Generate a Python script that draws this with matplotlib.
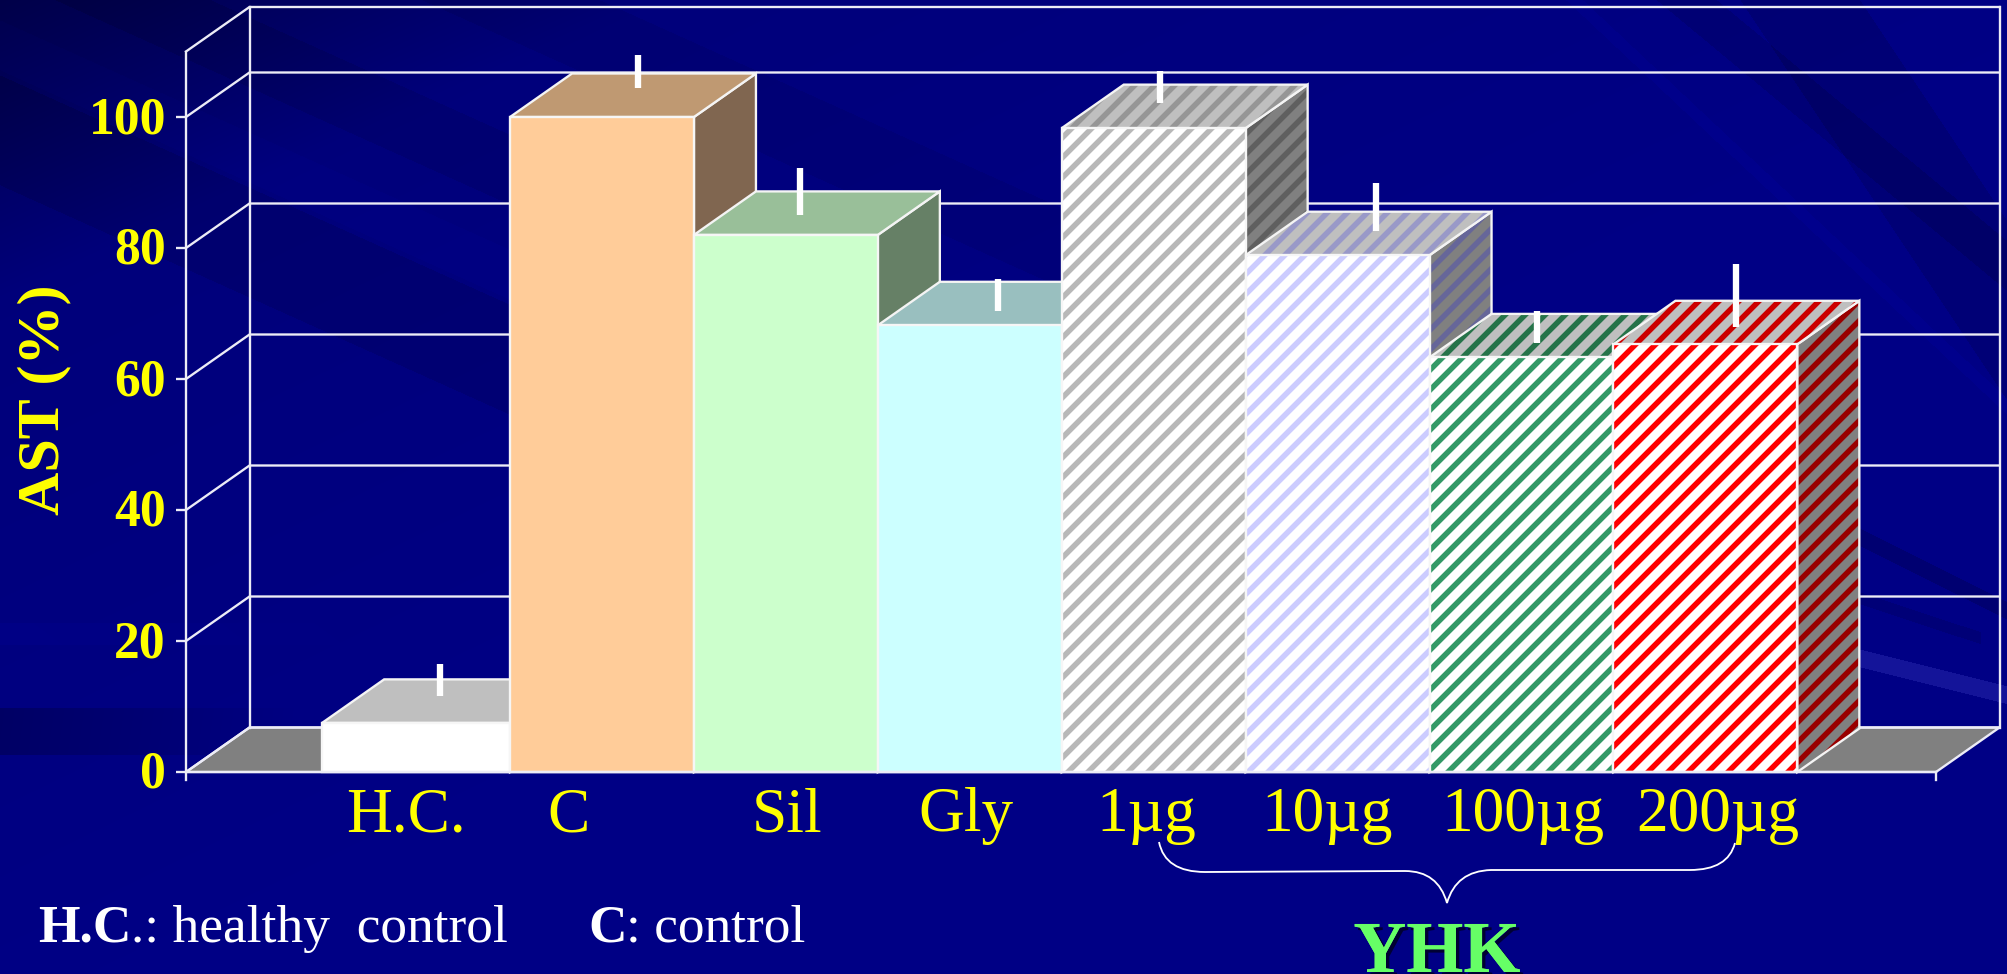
import numpy as np
import matplotlib
matplotlib.use("Agg")
import matplotlib.pyplot as plt
from matplotlib.patches import Polygon, PathPatch
from matplotlib.path import Path
from matplotlib.transforms import ScaledTranslation
import matplotlib.patheffects as pe

categories = ["H.C.", "C", "Sil", "Gly", "1µg", "10µg", "100µg", "200µg"]
values = [7.5, 100, 82, 68.2, 98.3, 78.9, 63.3, 65.3]
err_low = [11.6, 104.5, 85.1, 70.4, 102.1, 82.6, 65.5, 67.9]
err_high = [16.5, 109.5, 92.2, 75.3, 107, 89.9, 70.4, 77.6]
y_ticks = [0, 20, 40, 60, 80, 100]

W, H, DPI = 2007, 974, 120
plt.rcParams["font.family"] = ["Liberation Serif", "DejaVu Serif"]
plt.rcParams["hatch.linewidth"] = 3.3

# layout: pixel <-> data mapping
PX_X0, PX_XU, PX_Y0, PX_YU = 418.1, 183.9, 772.0, 6.55
def xd(px): return (px - PX_X0) / PX_XU
def yd(py): return (PX_Y0 - py) / PX_YU

fig = plt.figure(figsize=(W / DPI, H / DPI), dpi=DPI)
ax = fig.add_axes([0, 0, 1, 1])
xlim = (xd(0), xd(W)); ylim = (yd(H), yd(0))

# background
yy, xx = np.mgrid[0:H:1, 0:W:1].astype(float)
blue = 124 + 14 * np.clip(xx / W + yy / H - 0.4, -0.4, 0.7)
blue -= 45 * np.clip(1 - (xx / 650 + yy / 300), 0, 1)
def band(c, w, amp, slope=0.45, xmin=0, xmax=W):
    d = (yy - slope * xx - c)
    return amp * ((np.abs(d) < w) & (xx >= xmin) & (xx <= xmax))
blue += band(130, 55, -12, xmax=1100) + band(-60, 35, -10, xmax=1100) + band(-230, 40, -8, xmax=1100)
blue += band(45, 25, 4, xmax=1100)
# top right fan of streaks
blue += band(-1400, 25, -14, 0.83) + band(-2700, 90, -15, 1.5)
blue += band(-1480, 8, 7, 0.94)
# lower right streaks
blue += band(537 - 0.5 * 1860, 9, -20, 0.5, 1800) + band(598 - 0.33 * 1860, 6, -14, 0.33, 1800, 1980)
# dark block at lower left
blue += -28 * ((yy > 707) & (yy < 755)) * np.clip(1 - xx / 300, 0, 1)
blue += 6 * ((yy > 622) & (yy < 645)) * np.clip(1 - xx / 340, 0, 1)
blue = np.clip(blue, 60, 150)
zero = np.zeros_like(blue)
img = np.dstack([zero, zero, blue / 255.0])
streak = (np.abs(yy - 0.25 * (xx - 1860) - 658) < 9) & (xx > 1840)
img[streak] = [0.08, 0.08, 0.60]
ax.imshow(img, extent=(*xlim, *ylim), origin="upper", aspect="auto",
          interpolation="nearest", zorder=0)
ax.set_xlim(*xlim); ax.set_ylim(*ylim)

LINE = "#ECECF6"
LW = 1.4
ax_l, ax_r = xd(186), xd(1936)
wall_dx, wall_dy = 63.5 / PX_XU, 44.5 / PX_YU
top_val = 110
bar_dx, bar_dy = 62 / PX_XU, 43.5 / PX_YU

# floor
ax.add_patch(Polygon([(ax_l, 0), (ax_r, 0), (ax_r + wall_dx, wall_dy), (ax_l + wall_dx, wall_dy)],
                     closed=True, fc="#808080", ec=LINE, lw=LW, zorder=1))
# grid on walls
for v in y_ticks + [top_val]:
    ax.plot([ax_l, ax_l + wall_dx, ax_r + wall_dx], [v, v + wall_dy, v + wall_dy],
            color=LINE, lw=LW, zorder=1, solid_joinstyle="miter")
ax.plot([ax_l + wall_dx] * 2, [wall_dy, top_val + wall_dy], color=LINE, lw=LW, zorder=1)
ax.plot([ax_r + wall_dx] * 2, [wall_dy, top_val + wall_dy], color=LINE, lw=LW, zorder=1)
ax.plot([ax_r, ax_r], [0, yd(780)], color=LINE, lw=LW, zorder=1)

# bars
front = ["#FFFFFF", "#FFCC99", "#CCFFCC", "#CCFFFF", "#FFFFFF", "#FFFFFF", "#FFFFFF", "#FFFFFF"]
top_c = ["#BFBFBF", "#BF9972", "#99BF99", "#99BFBF", "#BFBFBF", "#BFBFBF", "#BFBFBF", "#BFBFBF"]
side_c = ["#808080", "#806650", "#668066", "#668080", "#808080", "#808080", "#808080", "#808080"]
stripe = [None, None, None, None, "#B8B8B8", "#CCCCFF", "#339966", "#FF0000"]
stripe_top = [None, None, None, None, "#969696", "#9999C8", "#267349", "#CC0000"]
stripe_side = [None, None, None, None, "#5F5F5F", "#666699", "#1A4D33", "#990000"]
left_extra = [4 / PX_XU, 0, 0, 0, 0, 0, 0, 0]

for i, v in enumerate(values):
    z = 3 + i
    l, r = i - 0.5 - left_extra[i], i + 0.5
    c, w = (l + r) / 2, r - l
    top_poly = [(l, v), (r, v), (r + bar_dx, v + bar_dy), (l + bar_dx, v + bar_dy)]
    side_poly = [(r, 0), (r + bar_dx, bar_dy), (r + bar_dx, v + bar_dy), (r, v)]
    for poly, fc, sc in ((side_poly, side_c[i], stripe_side[i]), (top_poly, top_c[i], stripe_top[i])):
        if sc:
            ax.add_patch(Polygon(poly, closed=True, fc=fc, ec=sc, lw=0, hatch="//", zorder=z))
        else:
            ax.add_patch(Polygon(poly, closed=True, fc=fc, lw=0, zorder=z))
        ax.add_patch(Polygon(poly, closed=True, fill=False, ec="#F4F4F4", lw=LW, zorder=z))
    if stripe[i]:
        ax.bar(c, v, width=w, color=front[i], edgecolor=stripe[i], linewidth=0, hatch="//", zorder=z)
    else:
        ax.bar(c, v, width=w, color=front[i], linewidth=0, zorder=z)
    ax.bar(c, v, width=w, fill=False, edgecolor="#F6F6F6", linewidth=LW, zorder=z)

# error marks
err_px = [440, 638, 800, 998, 1160, 1376, 1537, 1736]
ax.vlines([xd(p) for p in err_px], err_low, err_high, colors="white", lw=3.8, zorder=20)

# axes
for s in ("top", "right"):
    ax.spines[s].set_visible(False)
for s in ("left", "bottom"):
    ax.spines[s].set_color(LINE)
    ax.spines[s].set_linewidth(LW)
    ax.spines[s].set_zorder(15)
ax.spines["left"].set_position(("data", ax_l))
ax.spines["left"].set_bounds(yd(780), top_val)
ax.spines["bottom"].set_position(("data", 0))
ax.spines["bottom"].set_bounds(ax_l, ax_r)
ax.set_yticks(y_ticks)
ax.set_yticklabels([str(t) for t in y_ticks], color="#FFFF00", fontsize=31, fontweight="bold",
                   va="center_baseline")
ax.tick_params(axis="y", direction="out", length=6, width=LW, color=LINE, pad=6)
for lbl in ax.get_yticklabels():
    lbl.set_transform(lbl.get_transform() + ScaledTranslation(0, 2.5 / DPI, fig.dpi_scale_trans))
label_px = [406, 569, 787, 966, 1146, 1327, 1523, 1718]
ax.set_xticks([xd(p) for p in label_px])
ax.set_xticklabels(categories, color="#FFFF00", fontsize=38)
ax.tick_params(axis="x", length=0, pad=9)

ax.text(xd(44), yd(400), "AST (%)", rotation=90, color="#FFFF00", fontsize=36,
        fontweight="bold", ha="center", va="center", zorder=25)

# notes
note = dict(fontsize=32, color="white", va="baseline", zorder=25)
ax.text(xd(38), yd(942), "H.C", fontweight="bold", **note)
ax.text(xd(131), yd(942), ".: healthy  control", **note)
ax.text(xd(588), yd(942), "C", fontweight="bold", **note)
ax.text(xd(626), yd(942), ": control", **note)

# brace
pts = [(1159, 842), (1165, 872), (1205, 872), (1405, 871), (1438, 871), (1447, 903),
       (1456, 871), (1491, 870), (1690, 870), (1728, 870), (1735, 843)]
codes = [Path.MOVETO, Path.CURVE3, Path.CURVE3, Path.LINETO, Path.CURVE3, Path.CURVE3,
         Path.CURVE3, Path.CURVE3, Path.LINETO, Path.CURVE3, Path.CURVE3]
ax.add_patch(PathPatch(Path([(xd(a), yd(b)) for a, b in pts], codes), fc="none", ec="white", lw=1.1, zorder=25))

ax.text(xd(1437), yd(972), "YHK", color="#66FF66", fontsize=44, fontweight="bold",
        ha="center", va="baseline", zorder=25,
        path_effects=[pe.withSimplePatchShadow(offset=(2, -2), shadow_rgbFace="#000033", alpha=1), pe.Normal()])

fig.savefig("out.png", dpi=DPI)
